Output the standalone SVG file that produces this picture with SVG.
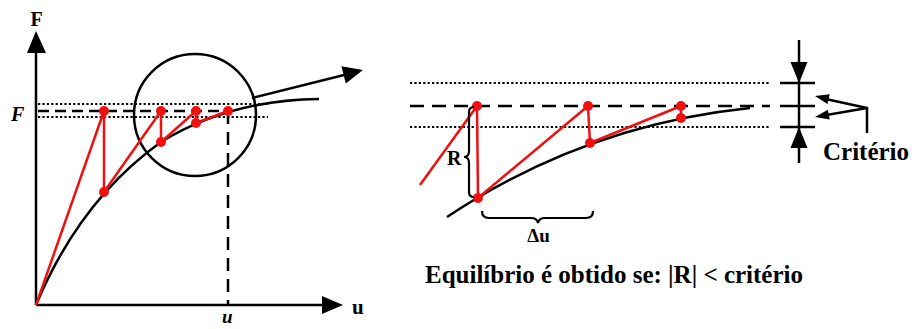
<svg xmlns="http://www.w3.org/2000/svg" width="915" height="329" viewBox="0 0 915 329">
<style>
.blk{fill:none;stroke:#000;stroke-width:2.5}
.red{fill:none;stroke:#f01010;stroke-width:2.5;stroke-linejoin:round}
.dot{fill:none;stroke:#000;stroke-width:2.2;stroke-dasharray:2.2 2.2}
.dash{fill:none;stroke:#000;stroke-width:2.5;stroke-dasharray:11 6}
.pt{fill:#f01010}
.ah{fill:#000}
.t{font-family:'Liberation Serif','DejaVu Serif',serif;font-weight:bold;fill:#000}
.ti{font-family:'Liberation Serif','DejaVu Serif',serif;font-style:italic;font-weight:bold;fill:#000}
</style>
<rect width="915" height="329" fill="#fff"/>
<g id="left-axes">
<line class="blk" x1="36" y1="305" x2="36" y2="48"/>
<polygon class="ah" points="36,31 27,53 46,53"/>
<line class="blk" x1="36" y1="305" x2="326" y2="305"/>
<polygon class="ah" points="343,305 322,296 322,314"/>
<text class="t" x="36.5" y="26" font-size="20" text-anchor="middle">F</text>
<text class="t" x="352" y="314" font-size="21">u</text>
<text class="ti" x="11" y="121" font-size="20">F</text>
<text class="ti" x="222" y="323" font-size="19">u</text>
</g>
<g id="left-guides">
<line class="dot" x1="38" y1="104" x2="268" y2="104"/>
<line class="dot" x1="38" y1="117" x2="268" y2="117"/>
<line class="dash" x1="38" y1="111" x2="228" y2="111"/>
<line class="blk" x1="228" y1="111" x2="228" y2="305" stroke-dasharray="13 8"/>
</g>
<g id="left-curve">
<path class="blk" d="M36,305 Q80,200 161,142 Q230,100 319,99"/>
</g>
<g id="left-circle">
<circle class="blk" cx="195" cy="115" r="61"/>
</g>
<g id="left-arrow">
<line class="blk" x1="252" y1="98" x2="346" y2="74.5"/>
<polygon class="ah" points="363,70 341.4,66.2 345.8,83.6"/>
</g>
<g id="left-iterations">
<polyline class="red" points="36,305 104,111 104,192 161,111 161,142 196,111 196,123 228,111"/>
<circle class="pt" cx="104" cy="111" r="5"/>
<circle class="pt" cx="104" cy="192" r="5"/>
<circle class="pt" cx="161" cy="111" r="5"/>
<circle class="pt" cx="161" cy="142" r="5"/>
<circle class="pt" cx="196" cy="111" r="5"/>
<circle class="pt" cx="196" cy="123" r="5"/>
<circle class="pt" cx="228" cy="111" r="5"/>
</g>
<g id="right-guides">
<line class="dot" x1="410" y1="83" x2="769" y2="83"/>
<line class="dot" x1="410" y1="127" x2="769" y2="127"/>
<line class="blk" x1="410" y1="106" x2="770" y2="106" stroke-dasharray="14 8"/>
</g>
<g id="right-curve">
<path class="blk" d="M447,217 Q585,125 750,108"/>
</g>
<g id="right-iterations">
<polyline class="red" points="420,185 477,106 478,198 588,106 590,143 681,106 681,118"/>
<circle class="pt" cx="477" cy="106" r="5"/>
<circle class="pt" cx="478" cy="198" r="5"/>
<circle class="pt" cx="588" cy="106" r="5"/>
<circle class="pt" cx="590" cy="143" r="5"/>
<circle class="pt" cx="681" cy="106" r="5"/>
<circle class="pt" cx="681" cy="118" r="5"/>
</g>
<g id="R-brace">
<path fill="none" stroke="#000" stroke-width="2.2" d="M474,107 Q469,107 469,112 L469,151 Q469,157 464,157 Q469,157 469,163 L469,192 Q469,197 474,197"/>
<text class="t" x="447" y="165" font-size="20">R</text>
</g>
<g id="du-brace">
<path fill="none" stroke="#000" stroke-width="2.2" d="M482,211 Q482,218 489,218 L531,218 Q537,218 538,223 Q539,218 545,218 L586,218 Q593,218 593,211"/>
<text class="t" x="538.5" y="242" font-size="19" text-anchor="middle">Δu</text>
</g>
<g id="criterio">
<line class="blk" x1="799" y1="40" x2="799" y2="163"/>
<polygon class="ah" points="799,83 790.5,62 807.5,62"/>
<polygon class="ah" points="799,127 790.5,148 807.5,148"/>
<line class="blk" x1="780" y1="83" x2="815" y2="83"/>
<line class="blk" x1="780" y1="106" x2="815" y2="106"/>
<line class="blk" x1="780" y1="127" x2="815" y2="127"/>
<polyline class="blk" points="867,133 867,108 828,99.5"/>
<line class="blk" x1="867" y1="108" x2="828" y2="114.8"/>
<polygon class="ah" points="815,96 829.7,94.3 827.5,104.1"/>
<polygon class="ah" points="815,117 829.7,119.5 827.9,109.7"/>
<text class="t" x="823" y="160" font-size="25" fill="#111122">Critério</text>
</g>
<g id="caption">
<text class="t" x="425" y="283" font-size="25">Equilíbrio é obtido se: |R| &lt; critério</text>
</g>
</svg>
